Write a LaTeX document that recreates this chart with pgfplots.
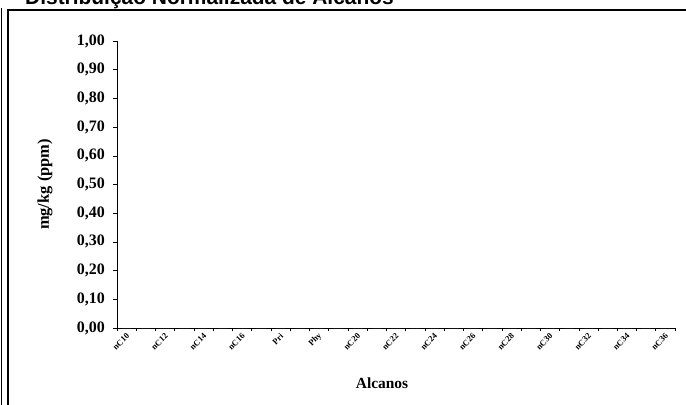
\documentclass[border=0pt]{standalone}
\usepackage{pgfplots}
\pgfplotsset{compat=1.18}
\usepackage{fontspec}
\setmainfont{Liberation Serif}
\newfontfamily\arialfont{Liberation Sans}
\begin{document}
\begin{tikzpicture}[x=1bp,y=1bp]
\useasboundingbox (0,0) rectangle (686,404);
% outer frame
\draw[line width=2.2bp] (8,-10) -- (8,394) -- (700,394);
\draw[line width=0.8bp] (1.5,-10) -- (1.5,396);
% title (cut at top, as in reference)
\node[anchor=base west, inner sep=0pt, font=\arialfont\bfseries\fontsize{21}{24}\selectfont] at (25,399) {Distribuição Normalizada de Alcanos};
\begin{axis}[
  at={(117bp,76bp)}, anchor=south west,
  scale only axis, width=558bp, height=287bp,
  xmin=-0.5, xmax=28.5, ymin=0, ymax=1,
  axis x line*=bottom, axis y line*=left,
  axis line style={-, line width=0.8bp},
  tick align=outside,
  xtick={0,2,...,28},
  xticklabels={nC10,nC12,nC14,nC16,Pri,Phy,nC20,nC22,nC24,nC26,nC28,nC30,nC32,nC34,nC36},
  major x tick style={draw=none},
  minor xtick={-0.5,0.5,...,28.5},
  minor tick length=3bp,
  minor x tick style={line width=0.6bp, black},
  xticklabel style={rotate=45, anchor=east, inner sep=1pt, yshift=-3bp, font=\bfseries\fontsize{8.5}{10}\selectfont},
  ytick={0,0.1,...,1.0001},
  major tick length=4bp,
  major y tick style={line width=0.6bp, black},
  yticklabel style={font=\bfseries\fontsize{16}{18}\selectfont, inner sep=0pt, xshift=-8bp},
  /pgf/number format/.cd, fixed, fixed zerofill, precision=2, use comma, assume math mode=true,
  /pgfplots/.cd,
  xlabel={Alcanos},
  xlabel style={font=\bfseries\fontsize{15.5}{18}\selectfont, at={(axis description cs:0.475,-0.192)}, anchor=center},
  ylabel={mg/kg (ppm)},
  ylabel style={font=\bfseries\fontsize{16.5}{19}\selectfont, at={(axis description cs:-0.129,0.5)}, anchor=center, rotate=0},
  ybar, bar width=10bp,
  clip=false,
]
\addplot[fill=gray, draw=none] coordinates {
(0,0) (1,0) (2,0) (3,0) (4,0) (5,0) (6,0) (7,0) (8,0) (9,0)
(10,0) (11,0) (12,0) (13,0) (14,0) (15,0) (16,0) (17,0) (18,0) (19,0)
(20,0) (21,0) (22,0) (23,0) (24,0) (25,0) (26,0) (27,0) (28,0)
};
\end{axis}
\end{tikzpicture}
\end{document}
